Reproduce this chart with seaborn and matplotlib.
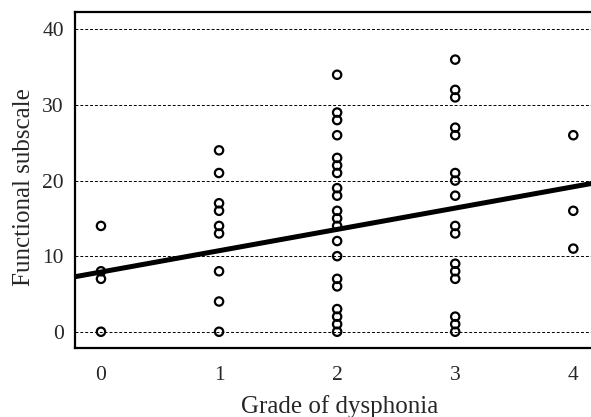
import numpy as np
import pandas as pd
import seaborn as sns
import matplotlib.pyplot as plt

# scores, one list per grade of dysphonia
grade0 = [14, 8, 7, 0]
grade1 = [24, 21, 17, 16, 14, 13, 8, 4, 0]
grade2 = [34, 29, 28, 26, 23, 22, 21, 19, 18, 16, 15, 14, 12, 10, 7, 6, 3, 2, 1, 0]
grade3 = [36, 32, 31, 27, 26, 21, 20, 18, 14, 13, 9, 8, 7, 2, 1, 0]
grade4 = [26, 16, 11]
grades = [0, 1, 2, 3, 4]

# fitted line as drawn in the figure
fit_intercept = 7.9
fit_slope = 2.82

rows = []
for g, vals in zip(grades, [grade0, grade1, grade2, grade3, grade4]):
    for v in vals:
        rows.append({"grade": g, "score": v})
df = pd.DataFrame(rows)

sns.set_style("white")
plt.rcParams["font.family"] = ["Liberation Serif", "DejaVu Serif"]

fig = plt.figure(figsize=(5.91, 4.17), dpi=100)
ax = fig.add_axes([75 / 591, 69 / 417, 1 - 75 / 591, 336 / 417])

xlim = (-0.22, 4.15)
ax.set_xlim(xlim)
ax.set_ylim(-2.15, 42.3)

for yv in [0, 10, 20, 30, 40]:
    ax.axhline(yv, color="black", lw=0.7, ls=(0, (3, 2)), zorder=1)

line_df = pd.DataFrame({"grade": list(xlim),
                        "score": [fit_intercept + fit_slope * x for x in xlim]})
sns.lineplot(data=line_df, x="grade", y="score", ax=ax, color="black",
             lw=3.6, zorder=2)

sns.scatterplot(data=df, x="grade", y="score", ax=ax, s=36, marker="o",
                facecolor="none", edgecolor="black", linewidth=1.6, zorder=3)

ax.set_xticks(grades)
ax.set_yticks([0, 10, 20, 30, 40])
ax.tick_params(axis="x", length=0, pad=13, labelsize=15.5)
ax.tick_params(axis="y", length=0, pad=8, labelsize=15.5)
ax.set_xlabel("Grade of dysphonia", fontsize=18, labelpad=7)
ax.set_ylabel("Functional subscale", fontsize=18, labelpad=5)
ax.xaxis.label.set_x((340 - 75) / 516)
ax.yaxis.label.set_y(0.48)

for side in ["left", "top", "bottom"]:
    ax.spines[side].set_linewidth(1.6)
    ax.spines[side].set_color("black")
ax.spines["right"].set_visible(False)

fig.savefig("out.png", dpi=100)
